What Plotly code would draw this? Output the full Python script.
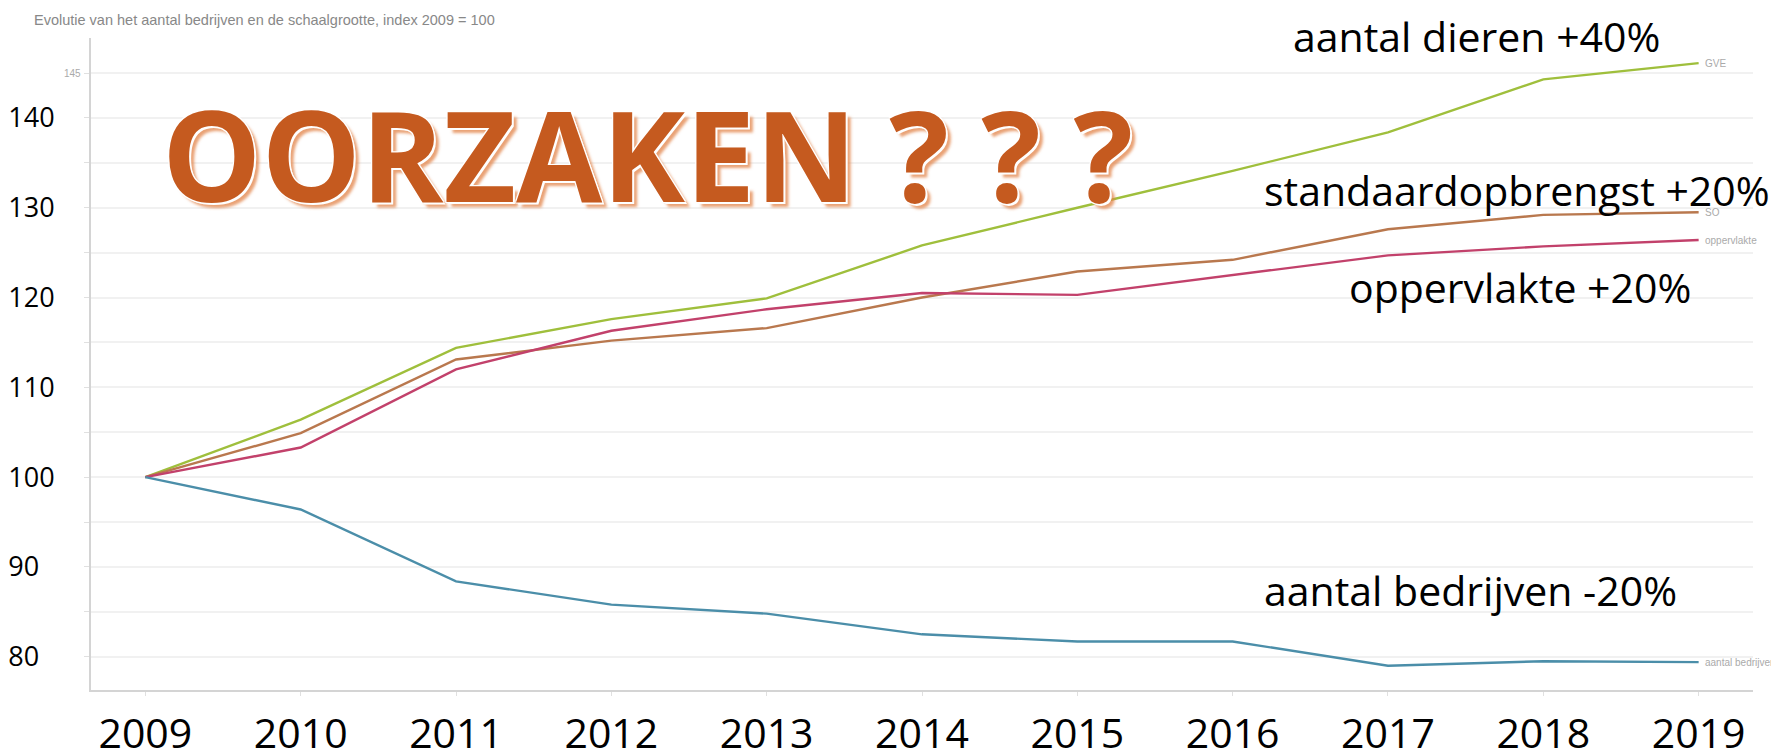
import plotly.graph_objects as go

years = [2009, 2010, 2011, 2012, 2013, 2014, 2015, 2016, 2017, 2018, 2019]
gve = [100, 106.4, 114.4, 117.6, 119.9, 125.8, 130.0, 134.1, 138.4, 144.3, 146.1]
so = [100, 104.9, 113.1, 115.2, 116.6, 120.0, 122.9, 124.2, 127.6, 129.2, 129.5]
oppervlakte = [100, 103.3, 112.0, 116.3, 118.7, 120.5, 120.3, 122.5, 124.7, 125.7, 126.4]
bedrijven = [100, 96.4, 88.4, 85.8, 84.8, 82.5, 81.7, 81.7, 79.0, 79.5, 79.4]

series = [
    ("GVE", gve, "#9fbf3c"),
    ("SO", so, "#b9784e"),
    ("oppervlakte", oppervlakte, "#c2416b"),
    ("aantal bedrijven", bedrijven, "#4b8ea9"),
]

y_ticks = [80, 90, 100, 110, 120, 130, 140]
y_ticktext = ["80\u2007", "90\u2007", "100", "110", "120", "130", "140"]

# the page body has an 8px margin, so the figure is drawn 8px smaller
W, H = 1771, 745
L, R, T, B = 83, 1745, 30, 682

fig = go.Figure()
for name, vals, col in series:
    fig.add_trace(go.Scatter(x=years, y=vals, mode="lines", name=name,
                             line=dict(color=col, width=2.4), showlegend=False))


def px(x):
    return (x - L) / (R - L)


def py(y):
    return (B - y) / (B - T)


annots = []
# small end labels
for name, vals, col in series:
    annots.append(dict(x=years[-1], y=vals[-1], xref="x", yref="y", text=name,
                       showarrow=False, xanchor="left", yanchor="middle", xshift=4,
                       font=dict(family="Arial", size=10, color="#aaaaaa")))
# small inner tick label 145
annots.append(dict(x=0, y=145, xref="paper", yref="y", text="145", showarrow=False,
                   xanchor="right", yanchor="middle", xshift=-8,
                   font=dict(family="Arial", size=10, color="#aaaaaa")))

big = [
    ("aantal dieren +40%", 1283, 27.7),
    ("standaardopbrengst +20%", 1254, 182.4),
    ("oppervlakte +20%", 1339, 278.8),
    ("aantal bedrijven -20%", 1254, 581.7),
]
for txt, x0, y0 in big:
    annots.append(dict(x=px(x0), y=py(y0), xref="paper", yref="paper", text=txt,
                       showarrow=False, xanchor="left", yanchor="middle",
                       font=dict(family="Open Sans", size=41, color="#000000")))

annots.append(dict(x=px(152), y=py(145.5), xref="paper", yref="paper",
                   text="<b>OORZAKEN ? ? ?</b>", showarrow=False,
                   xanchor="left", yanchor="middle",
                   font=dict(family="Open Sans", size=125, color="#c55a1f",
                             shadow="2px 2px 0 #ffffff, -1px -1px 0 #ffffff, 1px -1px 0 #ffffff, -1px 1px 0 #ffffff, 5px 5px 3px rgba(225,130,70,0.75)")))

fig.update_layout(
    width=W, height=H,
    margin=dict(l=L, r=W - R, t=T, b=H - B, autoexpand=False),
    paper_bgcolor="white", plot_bgcolor="white",
    title=dict(text="Evolutie van het aantal bedrijven en de schaalgrootte, index 2009 = 100",
               x=26 / W, xanchor="left", xref="container",
               y=1 - 11.5 / H, yanchor="middle", yref="container",
               font=dict(family="Arial", size=14.5, color="#888888")),
    xaxis=dict(range=[2008.65, 2019.35], tickvals=years, ticktext=[str(y) for y in years],
               automargin=False,
               showgrid=False, zeroline=False, showline=True, linecolor="#d4d4d4", linewidth=2,
               ticks="outside", ticklen=4, tickcolor="#e0e0e0",
               tickfont=dict(family="Open Sans", size=41, color="#000000"),
               ticklabelstandoff=3),
    yaxis=dict(range=[76.3, 148.9], tickvals=y_ticks, ticktext=y_ticktext,
               automargin=False,
               showgrid=True, gridcolor="#f1f1f1", gridwidth=1.5, zeroline=False,
               showline=True, linecolor="#d4d4d4", linewidth=2,
               ticks="outside", ticklen=5, tickcolor="#e0e0e0",
               minor=dict(tick0=80, dtick=5, ticks="outside", ticklen=5, tickcolor="#e0e0e0",
                          showgrid=True, gridcolor="#f1f1f1", gridwidth=1.5),
               tickfont=dict(family="Open Sans", size=27, color="#000000"),
               ticklabelstandoff=24),
    annotations=annots,
)

fig.write_html("out.html")
